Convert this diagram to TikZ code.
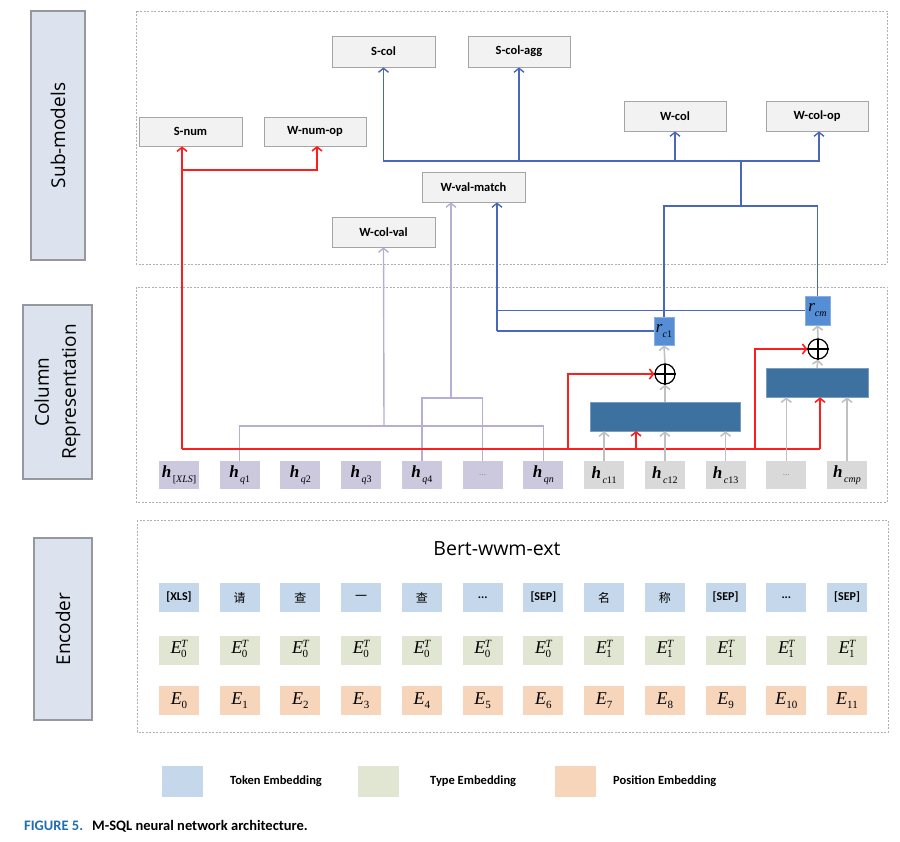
\documentclass[tikz,border=0pt]{standalone}
\usepackage{fontspec}
\setmainfont{Carlito}
\newfontfamily\osans{Open Sans}
\newfontfamily\tms{Liberation Serif}
\newfontfamily\cjk{Noto Sans CJK SC}
\usetikzlibrary{arrows.meta,calc}

\definecolor{subF}{RGB}{242,242,242}
\definecolor{subB}{RGB}{165,165,165}
\definecolor{sideF}{RGB}{220,227,238}
\definecolor{sideB}{RGB}{150,152,158}
\definecolor{frameC}{RGB}{175,175,175}
\definecolor{hqF}{RGB}{204,200,222}
\definecolor{hcF}{RGB}{217,217,217}
\definecolor{rF}{RGB}{85,142,213}
\definecolor{barF}{RGB}{61,113,160}
\definecolor{tokF}{RGB}{197,215,234}
\definecolor{typF}{RGB}{225,230,211}
\definecolor{posF}{RGB}{246,213,187}
\definecolor{redC}{RGB}{255,30,30}
\definecolor{blueC}{RGB}{74,104,186}
\definecolor{lavC}{RGB}{184,174,212}
\definecolor{greyC}{RGB}{192,192,192}
\definecolor{capblue}{RGB}{31,110,176}

\newcommand\hh[1]{{\tms\bfseries\itshape\fontsize{17}{17}\selectfont h}\kern1.5pt\raisebox{-5pt}{\tms\itshape\fontsize{10}{10}\selectfont #1}}
\newcommand\EE[1]{{\tms\itshape\fontsize{18}{18}\selectfont E}\raisebox{-4pt}{\tms\fontsize{11}{11}\selectfont #1}}
\newcommand\ET[1]{{\tms\itshape\fontsize{18}{18}\selectfont E}\kern-0.5pt\raisebox{-4pt}{\tms\fontsize{11}{10}\selectfont\begin{tabular}[b]{@{}l@{}}\itshape T\\#1\end{tabular}}}
\newcommand\rr[1]{{\tms\itshape\fontsize{17}{17}\selectfont r}\raisebox{-5pt}{\tms\itshape\fontsize{10}{10}\selectfont #1}}

\tikzset{
  subbox/.style={draw=subB, fill=subF, line width=0.8pt, minimum width=103pt, minimum height=30pt, inner sep=0pt, font=\fontsize{12.5}{14}\selectfont\bfseries},
  sidebox/.style={draw=sideB, fill=sideF, line width=1.1pt, rotate=90, inner sep=0pt, align=center, font=\osans\fontsize{19}{27}\selectfont},
  frame/.style={draw=frameC, dash pattern=on 2pt off 1.5pt, line width=0.6pt},
  cell/.style={minimum width=40pt, minimum height=28pt, inner sep=0pt},
  hqbox/.style={cell, fill=hqF},
  hcbox/.style={cell, fill=hcF},
  tokbox/.style={cell, minimum height=29pt, fill=tokF, font=\fontsize{12}{12}\selectfont\bfseries},
  typbox/.style={cell, minimum height=29pt, fill=typF},
  posbox/.style={cell, minimum height=29pt, fill=posF},
  rbox/.style={fill=rF, draw=rF!70!white, line width=0.6pt, inner sep=0pt},
  bar/.style={fill=barF, draw=barF!70!white, line width=0.6pt, inner sep=0pt},
  plus/.style={circle, draw=black, line width=1.2pt, minimum size=20pt, inner sep=0pt},
  tip/.style={-{Straight Barb[length=4pt,width=10pt]}},
  redl/.style={draw=redC, line width=1.6pt},
  bluel/.style={draw=blueC, line width=1.4pt},
  lavl/.style={draw=lavC, line width=1.4pt},
  greyl/.style={draw=greyC, line width=1.6pt},
  legbox/.style={minimum width=41pt, minimum height=31pt, inner sep=0pt},
  legtxt/.style={anchor=west, inner sep=0pt, font=\fontsize{12.5}{14}\selectfont\bfseries},
}

\begin{document}
\begin{tikzpicture}[x=1pt,y=-1pt]
\useasboundingbox (0,0) rectangle (900,842);

% frames
\draw[frame] (136,11) rectangle (887,264);
\draw[frame] (136,287) rectangle (887,502);
\draw[frame] (137,520) rectangle (888,732);

% side labels
\node[sidebox, minimum width=249pt, minimum height=54pt] (lsub) at (58,135.5) {Sub-models};
\node[sidebox, minimum width=174pt, minimum height=69pt] (lcol) at (57.5,392) {Column\\Representation};
\node[sidebox, minimum width=182pt, minimum height=58pt] (lenc) at (63,629) {Encoder};

% sub-model boxes
\node[subbox, minimum height=31pt] (scol) at (383.5,51.5) {S-col};
\node[subbox, minimum height=31pt, minimum width=102pt] (scolagg) at (519,51.5) {S-col-agg};
\node[subbox, minimum height=29pt] (snum) at (190.5,131.5) {S-num};
\node[subbox, minimum height=29pt, minimum width=102pt] (wnop) at (315,131.5) {W-num-op};
\node[subbox, minimum width=102pt] (wcol) at (675,116) {W-col};
\node[subbox, minimum width=102pt] (wcolop) at (817,116) {W-col-op};
\node[subbox] (wvm) at (473.5,187) {W-val-match};
\node[subbox] (wcv) at (383.5,232) {W-col-val};

% h row
\def\rowx#1{179+#1*60.73}
\node[hqbox] (hx)  at ({\rowx{0}},475) {\hh{{\upshape[}XLS{\upshape]}}};
\node[hqbox] (hq1) at ({\rowx{1}},475) {\hh{q{\upshape1}}};
\node[hqbox] (hq2) at ({\rowx{2}},475) {\hh{q{\upshape2}}};
\node[hqbox] (hq3) at ({\rowx{3}},475) {\hh{q{\upshape3}}};
\node[hqbox] (hq4) at ({\rowx{4}},475) {\hh{q{\upshape4}}};
\node[hqbox, font=\fontsize{9}{9}\selectfont, text=black!45] (hd1) at ({\rowx{5}},475) {...};
\node[hqbox] (hqn) at ({\rowx{6}},475) {\hh{qn}};
\node[hcbox] (hc11) at ({\rowx{7}},475) {\hh{c{\upshape11}}};
\node[hcbox] (hc12) at ({\rowx{8}},475) {\hh{c{\upshape12}}};
\node[hcbox] (hc13) at ({\rowx{9}},475) {\hh{c{\upshape13}}};
\node[hcbox, font=\fontsize{9}{9}\selectfont, text=black!45] (hd2) at ({\rowx{10}},475) {...};
\node[hcbox] (hcmp) at ({\rowx{11}},475) {\hh{cmp}};

% bars, plus, r
\node[bar, minimum width=150pt, minimum height=29pt] (bar1) at (665,416.5) {};
\node[bar, minimum width=102pt, minimum height=29pt] (bar2) at (817,382.5) {};
\node[plus] (p1) at (665,374) {};
\node[plus] (p2) at (818,349) {};
\draw[line width=1.2pt] (p1.north) -- (p1.south) (p1.west) -- (p1.east);
\draw[line width=1.2pt] (p2.north) -- (p2.south) (p2.west) -- (p2.east);
\node[rbox, minimum width=20pt, minimum height=28pt] (rc1) at (664,331) {\rr{c{\upshape1}}};
\node[rbox, minimum width=25pt, minimum height=29pt] (rcm) at (817.5,310.5) {\rr{cm}};

% lavender connectors
\coordinate (lA) at (384,426);
\coordinate (lB) at (451,398);
\draw[lavl] (hq1.north) |- (hqn.north |- lA) -- (hqn.north);
\draw[lavl,tip] (lA) -- (wcv.south);
\draw[lavl] (hq4.north) |- (hd1.north |- lB) -- (hd1.north);
\draw[lavl,tip] (lB) -- (lB |- wvm.south);

% blue connectors
\coordinate (bJ) at (741,161);
\coordinate (bT) at (741,206);
\coordinate (bV) at (497,331);
\coordinate (bW) at (819,161);
\draw[bluel] (bT) -- (bJ);
\draw[bluel,tip] (bJ) -| (scol.south);
\draw[bluel,tip] (bJ) -| (scolagg.south);
\draw[bluel,tip] (bJ) -| (wcol.south);
\draw[bluel,tip] (bJ) -- (bW) -- (bW |- wcolop.south);
\draw[bluel] (bT) -| (rc1.north);
\draw[bluel] (bT) -| (rcm.north);
\draw[bluel] (rcm.west) -- (rcm.west -| bV);
\draw[bluel] (rc1.west) -- (bV);
\draw[bluel,tip] (bV) -- (bV |- wvm.south);

% red connectors
\coordinate (rL) at (182,449);
\coordinate (rR) at (820,449);
\coordinate (rN) at (182,170);
\draw[redl] (rL) -- (rR);
\draw[redl,tip] (rL) -- (rL |- snum.south);
\draw[redl,tip] (rN) -| (317,146);
\draw[redl,tip] (568,449) |- (p1.west);
\draw[redl,tip] (636,449) -- (636,431);
\draw[redl,tip] (755,449) |- (p2.west);
\draw[redl,tip] (rR) -- (rR |- bar2.south);

% grey arrows
\draw[greyl,tip] (hc11.north) -- (hc11.north |- bar1.south);
\draw[greyl,tip] (hc12.north) -- (hc12.north |- bar1.south);
\draw[greyl,tip] (hc13.north) -- (hc13.north |- bar1.south);
\draw[greyl,tip] (bar1.north) -- (p1.south);
\draw[greyl,tip] (p1.north) -- (rc1.south);
\draw[greyl,tip] (hd2.north) -- (hd2.north |- bar2.south);
\draw[greyl,tip] (hcmp.north) -- (hcmp.north |- bar2.south);
\draw[greyl,tip] (bar2.north) -- (p2.south);
\draw[greyl,tip] (p2.north) -- (rcm.south);

% encoder
\node[font=\osans\fontsize{19.5}{20}\selectfont] (bert) at (497,549) {Bert-wwm-ext};
\node[tokbox] (t0) at ({\rowx{0}},597.5) {[XLS]};
\node[tokbox] (t1) at ({\rowx{1}},597.5) {\cjk\mdseries 请};
\node[tokbox] (t2) at ({\rowx{2}},597.5) {\cjk\mdseries 查};
\node[tokbox] (t3) at ({\rowx{3}},597.5) {\cjk\mdseries 一};
\node[tokbox] (t4) at ({\rowx{4}},597.5) {\cjk\mdseries 查};
\node[tokbox] (t5) at ({\rowx{5}},597.5) {...};
\node[tokbox] (t6) at ({\rowx{6}},597.5) {[SEP]};
\node[tokbox] (t7) at ({\rowx{7}},597.5) {\cjk\mdseries 名};
\node[tokbox] (t8) at ({\rowx{8}},597.5) {\cjk\mdseries 称};
\node[tokbox] (t9) at ({\rowx{9}},597.5) {[SEP]};
\node[tokbox] (t10) at ({\rowx{10}},597.5) {...};
\node[tokbox] (t11) at ({\rowx{11}},597.5) {[SEP]};

\foreach \i in {0,...,6} {\node[typbox] (y\i) at ({\rowx{\i}},650.5) {\ET{0}};}
\foreach \i in {7,...,11} {\node[typbox] (y\i) at ({\rowx{\i}},650.5) {\ET{1}};}
\foreach \i in {0,...,11} {\node[posbox] (e\i) at ({\rowx{\i}},700.5) {\EE{\i}};}

% legend
\node[legbox, fill=tokF] (lg1) at (182.5,781.5) {};
\node[legbox, fill=typF] (lg2) at (378.5,781.5) {};
\node[legbox, fill=posF] (lg3) at (575.5,781.5) {};
\node[legtxt] (lt1) at (230,781.5) {Token Embedding};
\node[legtxt] (lt2) at (430,781.5) {Type Embedding};
\node[legtxt] (lt3) at (613,781.5) {Position Embedding};

% caption
\node[anchor=west, inner sep=0pt, font=\fontsize{14.5}{16}\selectfont\bfseries, text=capblue] (cap1) at (24,826) {FIGURE 5.};
\node[anchor=west, inner sep=0pt, font=\fontsize{14.5}{16}\selectfont\bfseries] (cap2) at (92,826) {M-SQL neural network architecture.};
\end{tikzpicture}
\end{document}
